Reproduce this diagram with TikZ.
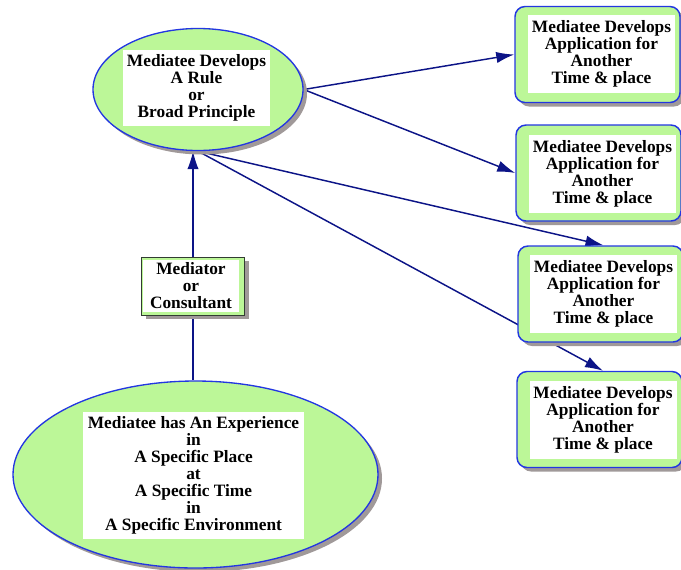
\documentclass[tikz,border=0pt]{standalone}
\usepackage{fontspec}
\setmainfont{Liberation Serif}
\usetikzlibrary{shapes.geometric,shadows,arrows.meta,backgrounds}

\definecolor{leaf}{RGB}{188,247,152}
\definecolor{rim}{RGB}{35,55,225}
\definecolor{navy}{RGB}{12,20,135}
\definecolor{shade}{RGB}{160,153,153}
\definecolor{frame}{RGB}{50,60,50}

\tikzset{
  x=0.75pt, y=-0.75pt,
  shade/.style={drop shadow={shadow xshift=3pt,shadow yshift=-3pt,fill=shade,opacity=1}},
  oval/.style={ellipse, draw=rim, line width=1pt, fill=leaf, inner sep=0pt, shade},
  appbox/.style={rectangle, rounded corners=7.5pt, draw=rim, line width=1.1pt, fill=leaf,
    inner sep=0pt, minimum width=123.75pt, minimum height=72pt, shade},
  medbox/.style={rectangle, draw=frame, line width=0.7pt, fill=leaf, inner sep=0pt,
    minimum width=77.25pt, minimum height=43.5pt, shade},
  label/.style={rectangle, fill=white, inner sep=0pt, align=center,
    font=\fontsize{13}{12.75}\selectfont\bfseries},
  conn/.style={draw=navy, line width=1.1pt, -{Latex[length=13.5pt,width=8.5pt]}},
  link/.style={draw=navy, line width=1.1pt}
}

\begin{document}
\begin{tikzpicture}
\useasboundingbox (0,0) rectangle (681,569);

% shapes
\node[oval, minimum width=157.5pt, minimum height=91.5pt] (rule) at (198,89.5) {};
\node[label, minimum width=110.25pt, minimum height=57pt] (ruletxt) at (196.5,88)
  {Mediatee Develops\\A Rule\\or\\Broad Principle};

\node[oval, minimum width=273.75pt, minimum height=140.25pt] (exp) at (195.5,474.5) {};
\node[label, minimum width=165.75pt, minimum height=95.25pt] (exptxt) at (193.5,475.5)
  {Mediatee has An Experience\\in\\A Specific Place\\at\\A Specific Time\\in\\A Specific Environment};

\node[medbox] (med) at (193,286) {};
\node[label, minimum width=72pt, minimum height=39pt] (medtxt) at (191,286)
  {Mediator\\or\\Consultant};

\node[appbox] (app1) at (597.5,54.5) {};
\node[label, minimum width=110.25pt, minimum height=58.5pt] (app1txt) at (601.5,54)
  {Mediatee Develops\\Application for\\Another\\Time \& place};

\node[appbox] (app2) at (598.5,173) {};
\node[label, minimum width=110.25pt, minimum height=58.5pt] (app2txt) at (602.5,174)
  {Mediatee Develops\\Application for\\Another\\Time \& place};

\node[appbox] (app3) at (600.5,294) {};
\node[label, minimum width=110.25pt, minimum height=58.5pt] (app3txt) at (603.5,294)
  {Mediatee Develops\\Application for\\Another\\Time \& place};

\node[appbox] (app4) at (599.5,419.5) {};
\node[label, minimum width=110.25pt, minimum height=58.5pt] (app4txt) at (603,420)
  {Mediatee Develops\\Application for\\Another\\Time \& place};

% connectors, kept beneath the shapes
\begin{scope}[on background layer]
  \draw[conn] (med.north) -- (med.north |- rule.south);
  \draw[link] (med.south) -- (med.south |- exp.north);
  \draw[conn] (rule.east) -- (app1.west);
  \draw[conn] (rule.east) -- (app2.west);
  \draw[conn] (rule.south) -- (app3txt.north |- app3.north);
  \draw[conn] (rule.south) -- (app4txt.north |- app4.north);
\end{scope}
\end{tikzpicture}
\end{document}
